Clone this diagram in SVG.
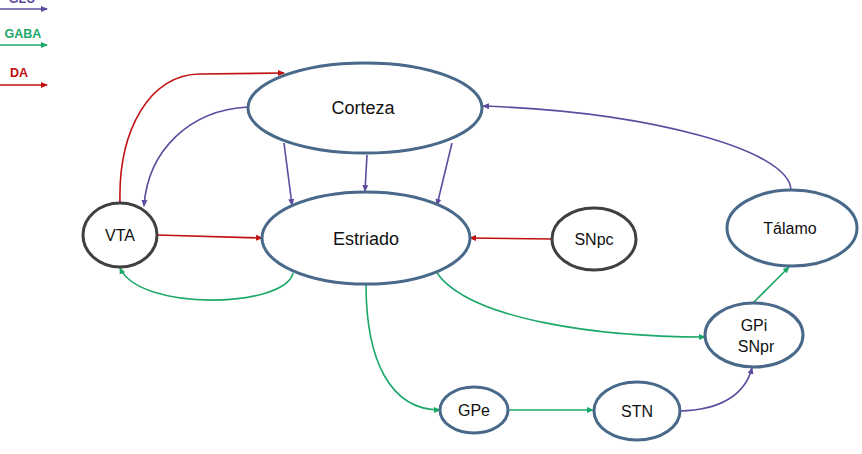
<svg xmlns="http://www.w3.org/2000/svg" width="862" height="454" viewBox="0 0 862 454">
<style>
.node{fill:#fff;stroke:#48698A;stroke-width:3}
.dark{fill:#fff;stroke:#404040;stroke-width:3}
.lbl{font-family:"Liberation Sans",Arial,sans-serif;font-size:16px;fill:#111;text-anchor:middle}
.big{font-size:18px}
.c{fill:none;stroke-width:1.6}
.glu{stroke:#5E4A9E}
.gaba{stroke:#1CA86A}
.da{stroke:#C01010}
.leg{font-family:"Liberation Sans",Arial,sans-serif;font-size:12.5px;font-weight:bold;text-anchor:middle}
</style>
<defs>
<marker id="ag" markerWidth="7" markerHeight="7" refX="6" refY="3.5" orient="auto" markerUnits="userSpaceOnUse"><path d="M0,0.5 L7,3.5 L0,6.5 Z" fill="#5E4A9E"/></marker>
<marker id="ab" markerWidth="7" markerHeight="7" refX="6" refY="3.5" orient="auto" markerUnits="userSpaceOnUse"><path d="M0,0.5 L7,3.5 L0,6.5 Z" fill="#1CA86A"/></marker>
<marker id="ad" markerWidth="7" markerHeight="7" refX="6" refY="3.5" orient="auto" markerUnits="userSpaceOnUse"><path d="M0,0.5 L7,3.5 L0,6.5 Z" fill="#C01010"/></marker>
</defs>
<rect width="862" height="454" fill="#fff"/>
<g id="legend">
<text class="leg" x="22" y="3" fill="#5E4A9E">GLU</text>
<line class="c glu" x1="0" y1="9" x2="47" y2="9" marker-end="url(#ag)"/>
<text class="leg" x="23" y="38" fill="#1CA86A">GABA</text>
<line class="c gaba" x1="0" y1="45" x2="47" y2="45" marker-end="url(#ab)"/>
<text class="leg" x="19" y="77" fill="#C01010">DA</text>
<line class="c da" x1="0" y1="85" x2="47" y2="85" marker-end="url(#ad)"/>
</g>
<g id="connectors">
<path class="c da" d="M120,203 C118,130 150,74 200,74 L284,73" marker-end="url(#ad)"/>
<path class="c glu" d="M248,107 C190,110 148,150 144,206" marker-end="url(#ag)"/>
<path class="c da" d="M157,235 L262,238" marker-end="url(#ad)"/>
<path class="c glu" d="M284,143 L292,205" marker-end="url(#ag)"/>
<path class="c glu" d="M367,155 L365,191" marker-end="url(#ag)"/>
<path class="c glu" d="M452,143 L437,205" marker-end="url(#ag)"/>
<path class="c da" d="M552,239 L470,238" marker-end="url(#ad)"/>
<path class="c gaba" d="M293,273 C285,308 140,312 120,268" marker-end="url(#ab)"/>
<path class="c gaba" d="M366,284 C366,360 390,410 440,410" marker-end="url(#ab)"/>
<path class="c gaba" d="M437,273 C470,320 600,337 705,337" marker-end="url(#ab)"/>
<path class="c gaba" d="M508,410 L593,410" marker-end="url(#ab)"/>
<path class="c glu" d="M680,411 C720,410 745,395 752,368" marker-end="url(#ag)"/>
<path class="c gaba" d="M753,303 L789,267" marker-end="url(#ab)"/>
<path class="c glu" d="M791,190 C790,150 650,112 483,106" marker-end="url(#ag)"/>
</g>
<g id="corteza"><ellipse class="node" cx="365" cy="108" rx="117" ry="45"/><text class="lbl big" x="363" y="114">Corteza</text></g>
<g id="estriado"><ellipse class="node" cx="366" cy="238" rx="104" ry="46"/><text class="lbl big" x="366" y="245">Estriado</text></g>
<g id="vta"><ellipse class="dark" cx="120" cy="235" rx="37" ry="32"/><text class="lbl" x="120" y="241">VTA</text></g>
<g id="snpc"><ellipse class="dark" cx="594" cy="239" rx="42" ry="31"/><text class="lbl" x="594" y="245">SNpc</text></g>
<g id="talamo"><ellipse class="node" cx="792" cy="228" rx="65" ry="38"/><text class="lbl" x="790" y="234">Tálamo</text></g>
<g id="gpi"><ellipse class="node" cx="754" cy="335" rx="49" ry="32"/><text class="lbl" x="754" y="331">GPi</text><text class="lbl" x="756" y="352">SNpr</text></g>
<g id="gpe"><ellipse class="node" cx="474" cy="410" rx="34" ry="23"/><text class="lbl" x="474" y="416">GPe</text></g>
<g id="stn"><ellipse class="node" cx="637" cy="411" rx="43" ry="29"/><text class="lbl" x="637" y="417">STN</text></g>
</svg>
